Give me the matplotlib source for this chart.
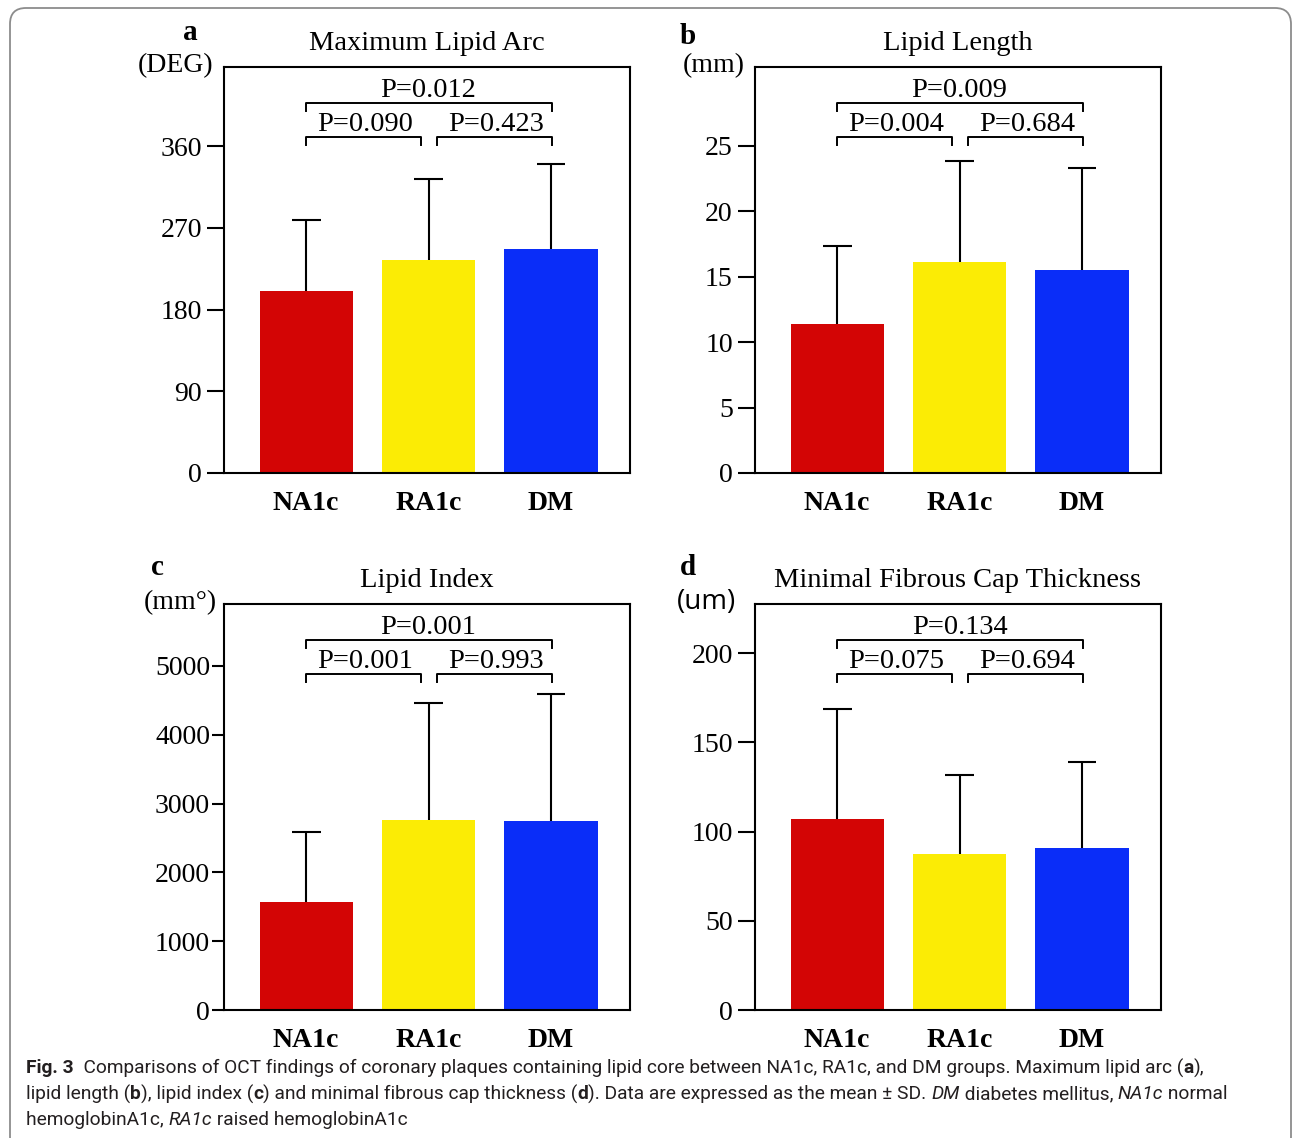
import matplotlib
matplotlib.use('Agg')
import matplotlib.pyplot as plt
import matplotlib.transforms as mtransforms
from matplotlib.patches import FancyBboxPatch
from matplotlib import font_manager

plt.rcParams['font.family'] = 'Liberation Serif'

groups = ['NA1c', 'RA1c', 'DM']
colors = ['#d30505', '#fbec05', '#0a2df8']

arc_mean = [200, 234, 247]
arc_sd = [79, 90, 93]
length_mean = [11.4, 16.1, 15.5]
length_sd = [5.9, 7.7, 7.8]
index_mean = [1570, 2760, 2750]
index_sd = [1015, 1700, 1845]
fct_mean = [107, 87.5, 91]
fct_sd = [62, 44, 48]

arc_p = ['P=0.012', 'P=0.090', 'P=0.423']
length_p = ['P=0.009', 'P=0.004', 'P=0.684']
index_p = ['P=0.001', 'P=0.001', 'P=0.993']
fct_p = ['P=0.134', 'P=0.075', 'P=0.694']

W, H = 1293, 1138
fig = plt.figure(figsize=(W / 100, H / 100), dpi=100)

# border frame of the figure
frame = FancyBboxPatch((0.10, -0.15), 12.81, 11.45, boxstyle='round,pad=0,rounding_size=0.16',
                       transform=fig.dpi_scale_trans, fill=False, ec='#8c8c8c', lw=1.3)
fig.patches.append(frame)


def add_panel(left_px, top_px, mean, sd, pvals, yticks, ylim, title, letter, letter_xy,
              unit, unit_x, unit_font='Liberation Serif', ticklen=12, tickpad=4):
    ax = fig.add_axes([left_px / W, 1 - (top_px + 406) / H, 406 / W, 406 / H])
    x = list(range(len(groups)))
    tops = [m + s for m, s in zip(mean, sd)]
    ax.vlines(x, mean, tops, color='black', lw=1.5, zorder=1)
    ax.hlines(tops, [i - 0.118 for i in x], [i + 0.118 for i in x], color='black', lw=1.5, zorder=1)
    ax.bar(x, mean, width=0.76, color=colors, zorder=2)
    ax.set_xlim(-0.67, 2.645)
    ax.set_ylim(*ylim)
    ax.set_yticks(yticks)
    ax.set_xticks([])
    ax.tick_params(axis='y', direction='out', length=ticklen, width=1.5, pad=tickpad, labelsize=20)
    for s in ax.spines.values():
        s.set_linewidth(1.5)
    for i, g in enumerate(groups):
        ax.text(i, -0.074, g, transform=ax.get_xaxis_transform(), ha='center', va='center',
                fontsize=20, fontweight='bold')

    tr = ax.get_xaxis_transform()
    # brackets: y in axes fraction, x in data
    top_y, low_y, drop = 0.911, 0.828, 0.02
    ax.plot([0, 0, 2.01, 2.01], [top_y - drop, top_y, top_y, top_y - drop], transform=tr,
            color='black', lw=1.4, clip_on=False)
    ax.plot([0, 0, 0.94, 0.94], [low_y - drop, low_y, low_y, low_y - drop], transform=tr,
            color='black', lw=1.4, clip_on=False)
    ax.plot([1.07, 1.07, 2.01, 2.01], [low_y - drop, low_y, low_y, low_y - drop], transform=tr,
            color='black', lw=1.4, clip_on=False)
    ax.text(1.0, 0.943, pvals[0], transform=tr, ha='center', va='center', fontsize=20.5)
    ax.text(0.48, 0.859, pvals[1], transform=tr, ha='center', va='center', fontsize=20.5)
    ax.text(1.55, 0.859, pvals[2], transform=tr, ha='center', va='center', fontsize=20.5)

    ax.text(0.5, 1.059, title, transform=ax.transAxes, ha='center', va='center', fontsize=20.5)
    ax.text(letter_xy[0], letter_xy[1], letter, transform=ax.transAxes, ha='center', va='center',
            fontsize=21, fontweight='bold')
    ax.text(unit_x, 1.004, unit, transform=ax.transAxes, ha='right', va='center', fontsize=20,
            family=unit_font)
    return ax


add_panel(224, 67, arc_mean, arc_sd, arc_p, [0, 90, 180, 270, 360], (0, 447),
          'Maximum Lipid Arc', 'a', (-0.084, 1.086), '(DEG)', -0.025)
add_panel(755, 67, length_mean, length_sd, length_p, [0, 5, 10, 15, 20, 25], (0, 31),
          'Lipid Length', 'b', (-0.165, 1.074), '(mm)', -0.025)
add_panel(224, 604, index_mean, index_sd, index_p, [0, 1000, 2000, 3000, 4000, 5000], (0, 5900),
          'Lipid Index', 'c', (-0.163, 1.091), '(mm°)', -0.017, ticklen=9, tickpad=1)
add_panel(755, 604, fct_mean, fct_sd, fct_p, [0, 50, 100, 150, 200], (0, 227.6),
          'Minimal Fibrous Cap Thickness', 'd', (-0.165, 1.091), '(um)', -0.047,
          unit_font='Open Sans')

# caption, drawn run by run so bold / italic pieces sit inline
names = {f.name for f in font_manager.fontManager.ttflist}
cap_font = 'Liberation Sans Narrow' if 'Liberation Sans Narrow' in names else 'Roboto'
cap_size = 15.5 if cap_font == 'Liberation Sans Narrow' else 13.8

caption = [
    [('Fig. 3', 'bold'), ('  Comparisons of OCT findings of coronary plaques containing lipid core between '
                          'NA1c, RA1c, and DM groups. Maximum lipid arc (', 'normal'), ('a', 'bold'), ('),', 'normal')],
    [('lipid length (', 'normal'), ('b', 'bold'), ('), lipid index (', 'normal'), ('c', 'bold'),
     (') and minimal fibrous cap thickness (', 'normal'), ('d', 'bold'),
     ('). Data are expressed as the mean ± SD. ', 'normal'), ('DM', 'italic'),
     (' diabetes mellitus, ', 'normal'), ('NA1c', 'italic'), (' normal', 'normal')],
    [('hemoglobinA1c, ', 'normal'), ('RA1c', 'italic'), (' raised hemoglobinA1c', 'normal')],
]
line_y = [1068, 1094, 1120]

renderer = fig.canvas.get_renderer()
ident = mtransforms.IdentityTransform()
for runs, y in zip(caption, line_y):
    x = 26
    for s, style in runs:
        t = fig.text(x, H - y, s, transform=ident, ha='left', va='center', fontsize=cap_size,
                     family=cap_font, color='#231f20',
                     fontweight='bold' if style == 'bold' else 'normal',
                     fontstyle='italic' if style == 'italic' else 'normal')
        x += t.get_window_extent(renderer).width

fig.savefig('out.png', dpi=100)
